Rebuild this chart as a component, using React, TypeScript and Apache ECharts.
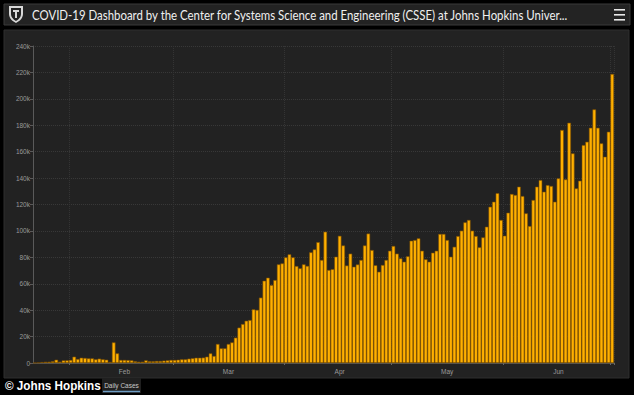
import React, { useEffect, useRef } from "react";
import * as echarts from "echarts";

// Daily cases (one bar per day, 22 Jan - 1 Jul 2020)
const janCases = [100, 300, 700, 900, 1000, 1300, 2500, 1000, 2000, 2000];
const febCases = [
  2300, 4800, 3000, 4000, 3800, 3500, 3500, 2800, 3300, 2800, 2500, 800, 15600, 7300, 2300, 2300, 2200, 2000,
  1300, 1000, 1000, 2000, 1300, 1300, 1500, 1500, 1800, 2000, 2300,
];
const marCases = [
  2300, 2500, 2800, 2800, 3300, 3600, 4000, 4000, 4100, 4800, 7300, 5300, 14400, 11100, 11100, 14400, 15600,
  19200, 26800, 29500, 32000, 32500, 40600, 40200, 49500, 62300, 64600, 59000, 62800, 74700, 75400,
];
const aprCases = [
  80000, 82300, 80000, 73400, 71700, 74700, 73500, 83800, 86000, 91500, 78000, 99400, 70400, 71000, 80500,
  96300, 89000, 73800, 82800, 72900, 74600, 78000, 89000, 98000, 85500, 74000, 69100, 74200, 78000, 85000,
];
const mayCases = [
  88600, 82800, 79200, 76700, 80800, 92600, 93100, 94400, 85000, 78500, 76700, 83500, 85000, 97700, 97700,
  93100, 80500, 88000, 96100, 100200, 106500, 108300, 100200, 96100, 87600, 95100, 103200, 118300, 122100,
  128600, 108300,
];
const junCases = [
  96400, 113800, 127900, 127200, 133500, 126400, 113300, 103700, 123400, 133500, 138500, 129700, 134700,
  134000, 122100, 139800, 176400, 139000, 181900, 158700, 132200, 138000, 165000, 167500, 178100, 192000,
  178100, 166300, 156200, 175100,
];
const julCases = [218800];

const monthLabels = ["Jan", "Feb", "Mar", "Apr", "May", "Jun", "Jul"];
const monthBlocks: [number, number, number[]][] = [
  [1, 22, janCases],
  [2, 1, febCases],
  [3, 1, marCases],
  [4, 1, aprCases],
  [5, 1, mayCases],
  [6, 1, junCases],
  [7, 1, julCases],
];

const pad = (n: number) => (n < 10 ? "0" + n : "" + n);
const categories: string[] = [];
const dailyCases: number[] = [];
monthBlocks.forEach(([m, startDay, vals]) => {
  vals.forEach((v, k) => {
    categories.push("2020-" + pad(m) + "-" + pad(startDay + k));
    dailyCases.push(v);
  });
});

const yTicks = { min: 0, max: 240000, interval: 20000 };

const TITLE =
  "COVID-19 Dashboard by the Center for Systems Science and Engineering (CSSE) at Johns Hopkins Univer...";

const SHIELD =
  "M0 0 L14 0 L14 8 C14 12.5 10 15.5 7 17 C4 15.5 0 12.5 0 8 Z M2 2 L2 8 C2 11.5 5 13.8 7 15 C9 13.8 12 11.5 12 8 L12 2 Z M4 4 L10 4 L10 6 L4 6 Z M6 6 L8 6 L8 12 L6 12 Z";

export default function App() {
  const ref = useRef<HTMLDivElement>(null);
  useEffect(() => {
    if (!ref.current) return;
    try {
      echarts.graphic.registerShape("logo", echarts.graphic.extendPath(SHIELD, {}) as any);
    } catch (e) {}
    const chart = echarts.init(ref.current, undefined, { renderer: "svg" });
    const axisColor = "#9a9a9a";
    chart.setOption({
      animation: false,
      backgroundColor: "#000000",
      grid: { left: 33, right: 20, top: 46, bottom: 32 },
      graphic: [
        // title bar
        { type: "rect", z: -5, shape: { x: 4, y: 4, width: 626, height: 21 }, style: { fill: "#232323", stroke: "#3a3a3a", lineWidth: 1 } },
        { type: "logo", z: -4, x: 9, y: 6, scaleX: 1, scaleY: 1, style: { fill: "#d8d8d8" } },
        {
          type: "text",
          z: -4,
          x: 32,
          y: 15,
          scaleX: 0.88,
          style: { text: TITLE, fill: "#f0f0f0", font: "13px Lato", verticalAlign: "middle" },
        },
        { type: "rect", z: -4, shape: { x: 614, y: 9, width: 11, height: 1.6 }, style: { fill: "#e8e8e8" } },
        { type: "rect", z: -4, shape: { x: 614, y: 14, width: 11, height: 1.6 }, style: { fill: "#e8e8e8" } },
        { type: "rect", z: -4, shape: { x: 614, y: 19, width: 11, height: 1.6 }, style: { fill: "#e8e8e8" } },
        // chart panel
        { type: "rect", z: -5, shape: { x: 4, y: 30, width: 625, height: 348 }, style: { fill: "#222222", stroke: "#2e2e2e", lineWidth: 1 } },
        // tab
        { type: "rect", z: -4, shape: { x: 102, y: 378, width: 39, height: 15 }, style: { fill: "#1f1f1f" } },
        {
          type: "text",
          z: -3,
          x: 121.5,
          y: 385,
          style: { text: "Daily Cases", fill: "#c8c8c8", font: "6.5px 'Liberation Sans'", align: "center", verticalAlign: "middle" },
        },
        { type: "line", z: -3, shape: { x1: 103, y1: 391.5, x2: 140, y2: 391.5 }, style: { stroke: "#6d9cc4", lineWidth: 1.5 } },
        {
          type: "text",
          z: -2,
          x: 5,
          y: 386,
          scaleX: 0.9,
          style: { text: "© Johns Hopkins", fill: "#ffffff", font: "bold 13px 'Liberation Sans'", verticalAlign: "middle" },
        },
      ],
      xAxis: {
        type: "category",
        data: categories,
        boundaryGap: true,
        axisLine: { show: true, lineStyle: { color: "#555555", width: 1 } },
        axisTick: {
          show: true,
          length: 2,
          interval: (i: number, v: string) => v.endsWith("-01"),
          lineStyle: { color: "#666666" },
        },
        splitLine: {
          show: true,
          interval: (i: number, v: string) => v.endsWith("-01"),
          lineStyle: { color: "#343434", type: "dotted", width: 1 },
        },
        axisLabel: {
          interval: (i: number, v: string) => v.endsWith("-16"),
          formatter: (v: string) => monthLabels[parseInt(v.slice(5, 7), 10) - 1],
          color: axisColor,
          fontSize: 6.5,
          fontFamily: "Liberation Sans",
          margin: 5,
        },
      },
      yAxis: {
        type: "value",
        min: yTicks.min,
        max: yTicks.max,
        interval: yTicks.interval,
        axisLine: { show: true, lineStyle: { color: "#5a5a5a", width: 1 } },
        axisTick: { show: true, length: 3, lineStyle: { color: "#5a5a5a" } },
        splitLine: { show: true, lineStyle: { color: "#383838", type: "dotted", width: 1 } },
        axisLabel: {
          formatter: (v: number) => (v === 0 ? "0" : v / 1000 + "k"),
          color: axisColor,
          fontSize: 6.5,
          fontFamily: "Liberation Sans",
          margin: 3,
        },
      },
      series: [
        {
          type: "bar",
          data: dailyCases,
          barCategoryGap: "0%",
          itemStyle: { color: "#FFB000", borderColor: "#7a4e00", borderWidth: 0.6 },
        },
      ],
    });
    return () => chart.dispose();
  }, []);
  return (
    <div
      ref={ref}
      style={{ position: "absolute", left: 0, top: 0, width: 634, height: 395, background: "#000" }}
    />
  );
}
